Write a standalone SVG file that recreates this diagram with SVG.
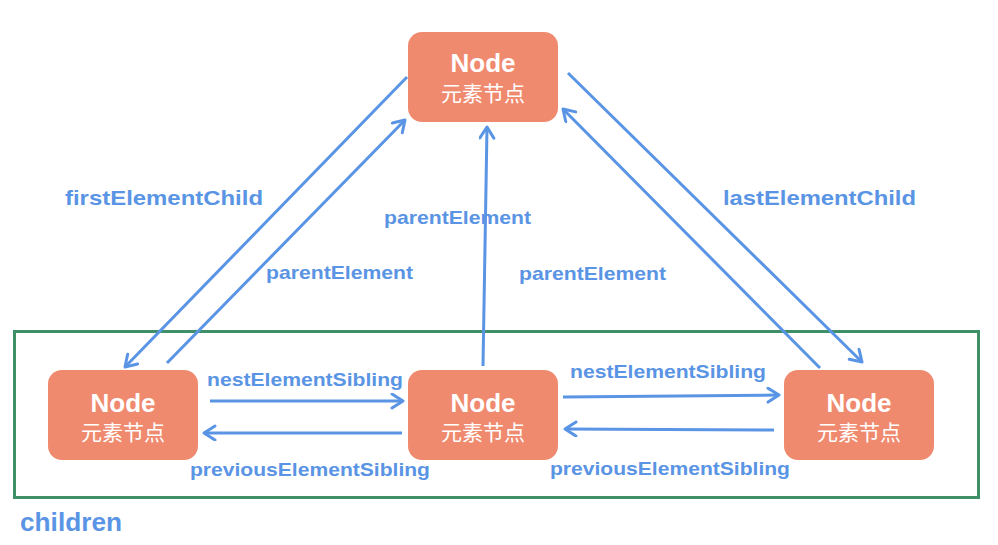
<svg xmlns="http://www.w3.org/2000/svg" width="998" height="545" viewBox="0 0 998 545">
<style>
.node rect{fill:#F08A6F}
.nt{font-family:"Liberation Sans",Arial,sans-serif;font-weight:bold;font-size:26px;fill:#fff;text-anchor:middle}
.ct{font-family:"Noto Sans CJK SC","Liberation Sans",sans-serif;font-size:21px;fill:#fff;text-anchor:middle}
.lbl{font-family:"Liberation Sans",Arial,sans-serif;font-weight:bold;font-size:19px;fill:#5A94E4}
.big{font-size:21px}
.edge{stroke:#5A94E4;stroke-width:3;fill:none;marker-end:url(#ah)}
</style>
<defs>
<marker id="ah" markerUnits="userSpaceOnUse" markerWidth="20" markerHeight="20" refX="13" refY="8" orient="auto">
<path d="M2,1 L13,8 L2,15" fill="none" stroke="#5A94E4" stroke-width="3" stroke-linecap="round" stroke-linejoin="round"/>
</marker>
</defs>
<rect x="14.5" y="331.5" width="964" height="166" fill="none" stroke="#3F9069" stroke-width="3"/>
<text class="lbl" x="20" y="531" style="font-size:25px" textLength="102" lengthAdjust="spacingAndGlyphs">children</text>
<g id="connectors">
<line class="edge" x1="407" y1="77" x2="125" y2="367"/>
<line class="edge" x1="167" y1="363" x2="405" y2="120"/>
<line class="edge" x1="483" y1="366" x2="487" y2="127"/>
<line class="edge" x1="568" y1="73" x2="862" y2="362"/>
<line class="edge" x1="820" y1="368" x2="563" y2="109"/>
<line class="edge" x1="210" y1="401" x2="403" y2="401"/>
<line class="edge" x1="402" y1="433" x2="204" y2="433"/>
<line class="edge" x1="563" y1="397" x2="779" y2="395"/>
<line class="edge" x1="774" y1="430" x2="565" y2="429"/>
</g>
<g id="labels">
<text class="lbl big" x="65" y="205" textLength="198" lengthAdjust="spacingAndGlyphs">firstElementChild</text>
<text class="lbl big" x="723" y="205" textLength="193" lengthAdjust="spacingAndGlyphs">lastElementChild</text>
<text class="lbl" x="384" y="224" textLength="147" lengthAdjust="spacingAndGlyphs">parentElement</text>
<text class="lbl" x="266" y="279" textLength="147" lengthAdjust="spacingAndGlyphs">parentElement</text>
<text class="lbl" x="519" y="280" textLength="147" lengthAdjust="spacingAndGlyphs">parentElement</text>
<text class="lbl" x="207" y="386" textLength="196" lengthAdjust="spacingAndGlyphs">nestElementSibling</text>
<text class="lbl" x="190" y="476" textLength="240" lengthAdjust="spacingAndGlyphs">previousElementSibling</text>
<text class="lbl" x="570" y="378" textLength="196" lengthAdjust="spacingAndGlyphs">nestElementSibling</text>
<text class="lbl" x="550" y="475" textLength="240" lengthAdjust="spacingAndGlyphs">previousElementSibling</text>
</g>
<g id="node-top" class="node">
<rect x="408" y="32" width="150" height="90" rx="14"/>
<text class="nt" x="483" y="72">Node</text>
<text class="ct" x="483" y="101">元素节点</text>
</g>
<g id="node-left" class="node">
<rect x="48" y="370" width="150" height="90" rx="14"/>
<text class="nt" x="123" y="412">Node</text>
<text class="ct" x="123" y="440">元素节点</text>
</g>
<g id="node-mid" class="node">
<rect x="408" y="370" width="150" height="90" rx="14"/>
<text class="nt" x="483" y="412">Node</text>
<text class="ct" x="483" y="440">元素节点</text>
</g>
<g id="node-right" class="node">
<rect x="784" y="370" width="150" height="90" rx="14"/>
<text class="nt" x="859" y="412">Node</text>
<text class="ct" x="859" y="440">元素节点</text>
</g>
</svg>
